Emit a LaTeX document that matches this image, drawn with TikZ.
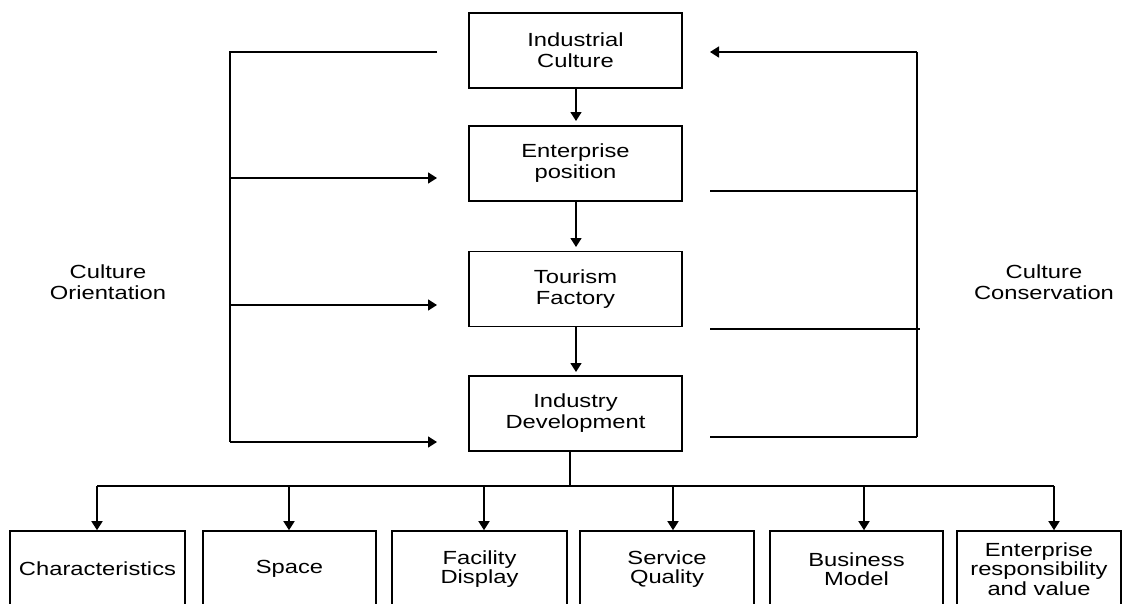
\documentclass[tikz,border=0pt]{standalone}
\usepackage{fontspec}
\newfontfamily\diafont[FakeStretch=1.25]{Liberation Sans}
\usetikzlibrary{arrows.meta}
\tikzset{
 ln/.style={line width=1.6pt},
 arr/.style={line width=1.6pt, -{Triangle[length=9pt,width=11pt]}},
 topbox/.style={draw, line width=1.6pt, minimum width=213pt, minimum height=75pt, inner sep=0pt, align=center, font=\diafont\fontsize{19}{21}\selectfont},
 botbox/.style={draw, line width=1.6pt, minimum height=76pt, inner sep=0pt, align=center, font=\diafont\fontsize{19}{19.5}\selectfont},
 lbl/.style={align=center, inner sep=0pt, font=\diafont\fontsize{19}{21}\selectfont},
}
\begin{document}
\begin{tikzpicture}[x=1pt,y=-1pt]
\useasboundingbox (0,0) rectangle (1122,603);
% main column
\node[topbox] (ic) at (575.5,50.5) {Industrial\\Culture};
\node[topbox] (ep) at (575.5,163.5) {Enterprise\\position};
\node[topbox] (tf) at (575.5,289) {Tourism\\Factory};
\node[topbox] (id) at (575.5,413.5) {Industry\\Development};
\draw[arr, shorten >=5pt] (576,88) -- (576,126);
\draw[arr, shorten >=5pt] (576,201) -- (576,252);
\draw[arr, shorten >=5pt] (576,326) -- (576,377);
% side labels
\node[lbl] (co) at (108,282.5) {Culture\\Orientation};
\node[lbl] (cc) at (1044,282.5) {Culture\\Conservation};
% left bracket
\coordinate (l0) at (437,52);
\coordinate (lc) at (230,52);
\coordinate (lb) at (230,442);
\coordinate (l1) at (230,178);
\coordinate (l2) at (230,305);
\coordinate (e1) at (437,178);
\coordinate (e2) at (437,305);
\coordinate (e3) at (437,442);
\draw[ln] (l0) -- (lc) -- (lb);
\draw[arr] (l1) -- (e1);
\draw[arr] (l2) -- (e2);
\draw[arr] (lb) -- (e3);
% right bracket
\coordinate (rt) at (917,52);
\coordinate (rb) at (917,437);
\coordinate (r0) at (710,52);
\coordinate (r1) at (710,191);
\coordinate (r1e) at (917,191);
\coordinate (r2) at (710,329);
\coordinate (r2e) at (920,329);
\coordinate (r3) at (710,437);
\draw[ln] (rt) -- (rb);
\draw[arr] (rt) -- (r0);
\draw[ln] (r1) -- (r1e);
\draw[ln] (r2) -- (r2e);
\draw[ln] (r3) -- (rb);
% bottom boxes
\node[botbox, minimum width=175pt] (b1) at (97.5,569) {Characteristics};
\node[botbox, minimum width=173pt] (b2) at (289.5,569) {Space};
\node[botbox, minimum width=175pt] (b3) at (479.5,569) {Facility\\Display};
\node[botbox, minimum width=174pt] (b4) at (667,569) {Service\\Quality};
\node[botbox, minimum width=173pt] (b5) at (856.5,569) {Business\\Model};
\node[botbox, minimum width=164pt] (b6) at (1039,569) {Enterprise\\responsibility\\and value};
% bus
\coordinate (bus) at (570,486);
\coordinate (t1) at (97,486);
\coordinate (t2) at (289,486);
\coordinate (t3) at (484,486);
\coordinate (t4) at (673,486);
\coordinate (t5) at (864,486);
\coordinate (t6) at (1054,486);
\draw[ln] (id.south -| bus) -- (bus);
\draw[ln] (t1) -- (t6);
\draw[arr] (t1) -- (t1 |- b1.north);
\draw[arr] (t2) -- (t2 |- b2.north);
\draw[arr] (t3) -- (t3 |- b3.north);
\draw[arr] (t4) -- (t4 |- b4.north);
\draw[arr] (t5) -- (t5 |- b5.north);
\draw[arr] (t6) -- (t6 |- b6.north);
\end{tikzpicture}
\end{document}
